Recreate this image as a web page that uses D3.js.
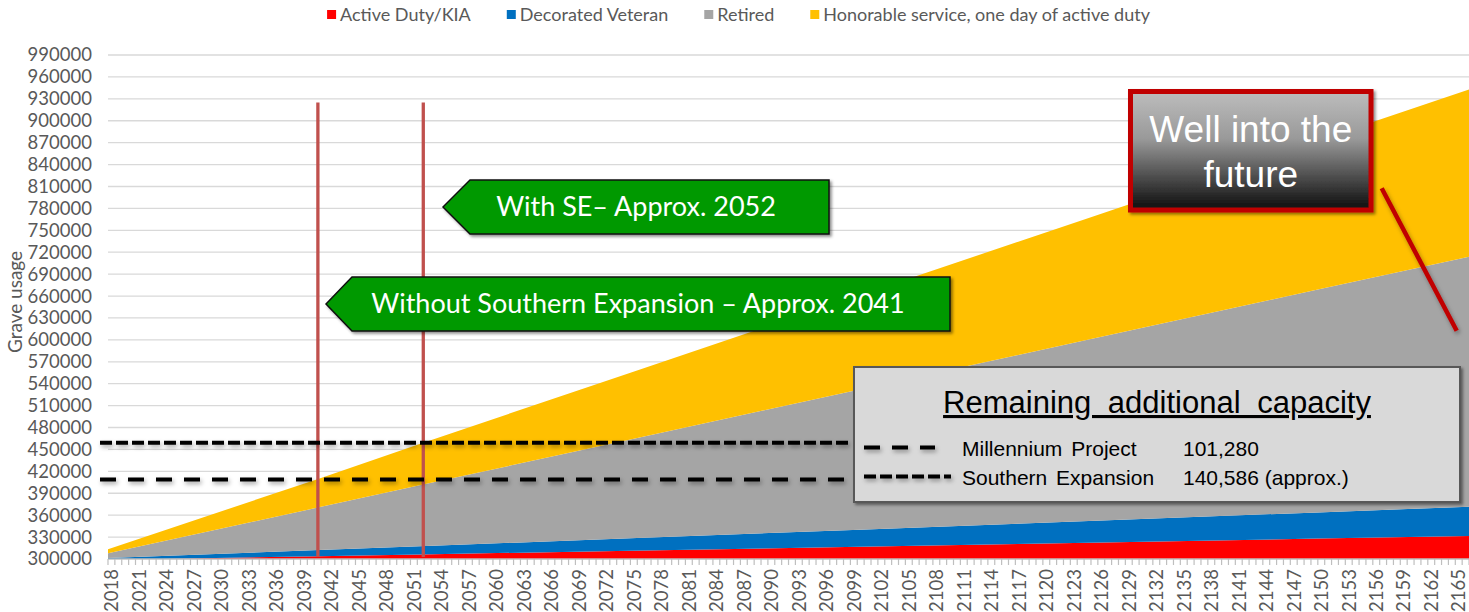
<!DOCTYPE html>
<html>
<head>
<meta charset="utf-8">
<script src="https://cdn.jsdelivr.net/npm/d3@7"></script>
<style>
  body { margin: 0; background: #fff; }
  svg { display: block; }
</style>
</head>
<body>
<div class="canvas"></div>
<script>
const width = 1469
const height = 612
const axisFont = 'Lato'
const axisColor = '#595959'
const boxFont = '"Liberation Sans", Arial, sans-serif'

// categories (years on the x axis)
const firstYear = 2018
const lastYear = 2165
const labelStep = 3

// stacked series values at these years
const sampleYears = [2018, 2041, 2052, 2075, 2100, 2125, 2150, 2167]
const activeDuty = [298700, 303800, 306200, 311300, 316800, 322300, 327900, 331600]
const decoratedVeteran = [2700, 8500, 11300, 17100, 23400, 29700, 35900, 40300]
const retired = [6400, 58400, 83300, 135300, 191900, 248400, 305000, 343400]
const honorable = [5500, 39300, 56700, 91300, 128900, 166600, 204200, 229700]

const seriesKeys = ['active', 'decorated', 'retired', 'honorable']
const seriesNames = ['Active Duty/KIA', 'Decorated Veteran', 'Retired', 'Honorable service, one day of active duty']
const seriesColors = ['#ff0000', '#0070c0', '#a5a5a5', '#ffc000']

// y axis
const yMin = 300000
const yMax = 990000
const yStep = 30000

// capacity lines
const capacityNames = ['Millennium Project', 'Southern Expansion']
const capacityValues = [409000, 459000]
const capacityText = ['101,280', '140,586 (approx.)']
const capacityDash = ['16,12', '12,4']

// red year markers
const markerYears = [2040.9, 2052.4]
const markerTop = 925000

// callouts
const arrowTexts = ['With SE\u2013 Approx. 2052', 'Without Southern Expansion \u2013 Approx. 2041']


const svg = d3.select('.canvas')
    .append('svg')
    .attr('width', width)
    .attr('height', height)
    .attr('viewBox', `0 0 ${width} ${height}`)

const defs = svg.append('defs')

const x = d3.scaleLinear()
    .domain([firstYear, lastYear])
    .range([108, 1455.3])

const y = d3.scaleLinear()
    .domain([yMin, yMax])
    .range([559, 55])

defs.append('clipPath')
    .attr('id', 'plot-clip')
    .append('rect')
    .attr('x', x(firstYear))
    .attr('y', y(yMax))
    .attr('width', width - x(firstYear))
    .attr('height', y(yMin) - y(yMax))

const shadow = defs.append('filter')
    .attr('id', 'shadow')
    .attr('x', '-10%').attr('y', '-30%')
    .attr('width', '130%').attr('height', '160%')
shadow.append('feDropShadow')
    .attr('dx', 2).attr('dy', 2)
    .attr('stdDeviation', 1.6)
    .attr('flood-color', '#000')
    .attr('flood-opacity', 0.45)

// straight lines have a flat bounding box, so this one works in page units
const lineShadow = defs.append('filter')
    .attr('id', 'line-shadow')
    .attr('filterUnits', 'userSpaceOnUse')
    .attr('x', 0).attr('y', 0)
    .attr('width', width).attr('height', height)
lineShadow.append('feDropShadow')
    .attr('dx', 1.5).attr('dy', 2.5)
    .attr('stdDeviation', 2)
    .attr('flood-color', '#000')
    .attr('flood-opacity', 0.35)

const grad = defs.append('linearGradient')
    .attr('id', 'future-grad')
    .attr('x1', 0).attr('y1', 0).attr('x2', 0).attr('y2', 1)
grad.selectAll('stop')
    .data([
        {offset: '0%', color: '#bdbdbd'},
        {offset: '40%', color: '#999999'},
        {offset: '100%', color: '#0b0b0b'}
    ])
    .enter().append('stop')
    .attr('offset', d => d.offset)
    .attr('stop-color', d => d.color)

// *gridlines
svg.append('g')
    .selectAll('line')
    .data(d3.range(yMin + yStep, yMax + 1, yStep))
    .enter().append('line')
    .attr('x1', x(firstYear)).attr('x2', width)
    .attr('y1', d => y(d)).attr('y2', d => y(d))
    .attr('stroke', '#d9d9d9')
    .attr('stroke-width', 1.3)

// *y labels
svg.append('g')
    .selectAll('text')
    .data(d3.range(yMin, yMax + 1, yStep))
    .enter().append('text')
    .attr('x', 92)
    .attr('y', d => y(d))
    .attr('dy', '0.35em')
    .attr('text-anchor', 'end')
    .attr('font-family', axisFont)
    .attr('font-size', 18.5)
    .attr('fill', axisColor)
    .text(d => d)

svg.append('text')
    .attr('transform', `translate(22, 302) rotate(-90)`)
    .attr('text-anchor', 'middle')
    .attr('font-family', axisFont)
    .attr('font-size', 19)
    .attr('fill', axisColor)
    .text('Grave usage')

// *stacked areas
const rows = sampleYears.map((yr, i) => ({
    year: yr,
    active: activeDuty[i],
    decorated: decoratedVeteran[i],
    retired: retired[i],
    honorable: honorable[i]
}))

const stacked = d3.stack().keys(seriesKeys)(rows)

const area = d3.area()
    .x(d => x(d.data.year))
    .y0(d => y(d[0]))
    .y1(d => y(d[1]))

svg.append('g')
    .attr('clip-path', 'url(#plot-clip)')
    .selectAll('path')
    .data(stacked)
    .enter().append('path')
    .attr('d', area)
    .attr('fill', (d, i) => seriesColors[i])

// *x axis
svg.append('line')
    .attr('x1', x(firstYear)).attr('x2', width)
    .attr('y1', y(yMin)).attr('y2', y(yMin))
    .attr('stroke', '#bfbfbf')
    .attr('stroke-width', 1.5)

svg.append('g')
    .selectAll('line')
    .data(d3.range(firstYear, lastYear + 2, 0.75))
    .enter().append('line')
    .attr('x1', d => x(d)).attr('x2', d => x(d))
    .attr('y1', y(yMin)).attr('y2', y(yMin) + 6)
    .attr('stroke', '#bfbfbf')
    .attr('stroke-width', 1.2)

svg.append('g')
    .selectAll('text')
    .data(d3.range(firstYear, lastYear + 1, labelStep))
    .enter().append('text')
    .attr('transform', d => `translate(${x(d) + 3.7}, 569) rotate(-90)`)
    .attr('dy', '0.35em')
    .attr('text-anchor', 'end')
    .attr('font-family', axisFont)
    .attr('font-size', 18.5)
    .attr('fill', axisColor)
    .text(d => d)

// *red year markers
svg.append('g')
    .selectAll('line')
    .data(markerYears)
    .enter().append('line')
    .attr('x1', d => x(d)).attr('x2', d => x(d))
    .attr('y1', y(markerTop)).attr('y2', y(yMin) - 2)
    .attr('stroke', '#c0504d')
    .attr('stroke-width', 3.3)

// *capacity dashed lines
svg.append('g')
    .selectAll('line')
    .data(capacityValues)
    .enter().append('line')
    .attr('x1', 100).attr('x2', 852)
    .attr('y1', d => y(d)).attr('y2', d => y(d))
    .attr('stroke', '#000')
    .attr('stroke-width', 4)
    .attr('stroke-dasharray', (d, i) => capacityDash[i])
    .attr('filter', 'url(#line-shadow)')

// *green arrow callouts
const arrows = [
    {tip: 443, left: 470, right: 829, top: 180, bottom: 234},
    {tip: 326, left: 352, right: 950, top: 277, bottom: 331}
]

const arrowG = svg.append('g')
arrows.forEach((a, i) => {
    const mid = (a.top + a.bottom) / 2
    arrowG.append('polygon')
        .attr('points', [[a.tip, mid], [a.left, a.top], [a.right, a.top], [a.right, a.bottom], [a.left, a.bottom]].join(' '))
        .attr('fill', '#009900')
        .attr('stroke', '#111')
        .attr('stroke-width', 1.5)
        .attr('filter', 'url(#shadow)')
    arrowG.append('text')
        .attr('x', (a.tip + a.right) / 2)
        .attr('y', mid)
        .attr('dy', '0.35em')
        .attr('text-anchor', 'middle')
        .attr('font-family', axisFont)
        .attr('font-size', 27)
        .attr('fill', '#fff')
        .text(arrowTexts[i])
})

// *"well into the future" box
svg.append('line')
    .attr('x1', 1381.7).attr('y1', 188.3)
    .attr('x2', 1456.7).attr('y2', 330.7)
    .attr('stroke', '#c00000')
    .attr('stroke-width', 4.5)
    .attr('filter', 'url(#line-shadow)')

svg.append('rect')
    .attr('x', 1130.5).attr('y', 91.5)
    .attr('width', 240.5).attr('height', 118.5)
    .attr('fill', 'url(#future-grad)')
    .attr('stroke', '#c00000')
    .attr('stroke-width', 5)
    .attr('filter', 'url(#shadow)')

svg.append('text')
    .attr('text-anchor', 'middle')
    .attr('font-family', boxFont)
    .attr('font-size', 37)
    .attr('fill', '#fff')
    .selectAll('tspan')
    .data(['Well into the', 'future'])
    .enter().append('tspan')
    .attr('x', 1250.8)
    .attr('y', (d, i) => 141.7 + i * 45)
    .text(d => d)

// *remaining capacity box
svg.append('rect')
    .attr('x', 854).attr('y', 367)
    .attr('width', 606).attr('height', 135)
    .attr('fill', '#d9d9d9')
    .attr('stroke', '#595959')
    .attr('stroke-width', 2)
    .attr('filter', 'url(#shadow)')

svg.append('text')
    .attr('x', 1157).attr('y', 413)
    .attr('text-anchor', 'middle')
    .attr('font-family', boxFont)
    .attr('font-size', 31)
    .attr('word-spacing', 8)
    .attr('text-decoration', 'underline')
    .attr('fill', '#000')
    .text('Remaining additional capacity')

const legRows = [
    {ly: 447.5, ty: 456, x2: 935},
    {ly: 476.5, ty: 484.5, x2: 951}
]

legRows.forEach((r, i) => {
    svg.append('line')
        .attr('x1', 864).attr('x2', r.x2)
        .attr('y1', r.ly).attr('y2', r.ly)
        .attr('stroke', '#000')
        .attr('stroke-width', 4)
        .attr('stroke-dasharray', capacityDash[i])
        .attr('filter', 'url(#line-shadow)')
    svg.append('text')
        .attr('x', 962).attr('y', r.ty)
        .attr('font-family', boxFont)
        .attr('font-size', 21)
        .attr('word-spacing', 3)
        .attr('fill', '#000')
        .text(capacityNames[i])
    svg.append('text')
        .attr('x', 1183).attr('y', r.ty)
        .attr('font-family', boxFont)
        .attr('font-size', 21)
        .attr('fill', '#000')
        .text(capacityText[i])
})

// *legend on top
const legend = svg.append('g')
let cursor = 0
seriesNames.forEach((name, i) => {
    const g = legend.append('g')
    g.append('rect')
        .attr('x', 0).attr('y', 10)
        .attr('width', 9).attr('height', 9)
        .attr('fill', seriesColors[i])
    const t = g.append('text')
        .attr('x', 13).attr('y', 15)
        .attr('dy', '0.35em')
        .attr('font-family', axisFont)
        .attr('font-size', 18)
        .attr('fill', axisColor)
        .text(name)
    const w = 13 + t.node().getComputedTextLength()
    g.attr('transform', `translate(${cursor}, 0)`)
    cursor += w + 36
})
const legendWidth = cursor - 36
legend.attr('transform', `translate(${738.5 - legendWidth / 2}, 0)`)
</script>
</body>
</html>
